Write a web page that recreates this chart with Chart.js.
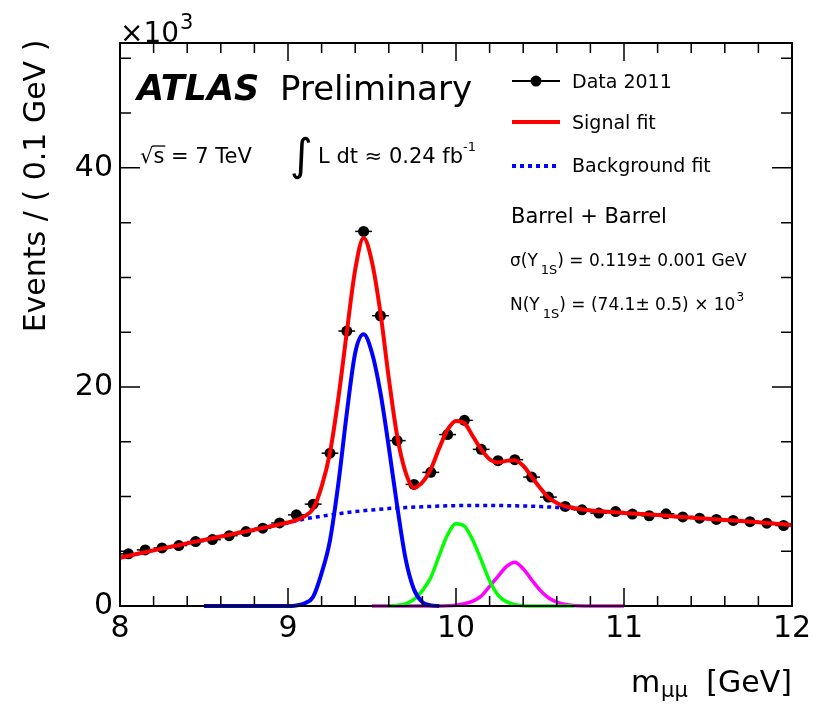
<!DOCTYPE html>
<html>
<head>
<meta charset="utf-8">
<script src="https://cdn.jsdelivr.net/npm/chart.js@4.4.0/dist/chart.umd.min.js"></script>
<style>
  html, body { margin: 0; padding: 0; background: #fff; }
</style>
</head>
<body>
<canvas id="myChart" width="819" height="704"></canvas>
<script>
// bin centres (GeV) and events per bin (x10^3)
const massBins = [8.05, 8.15, 8.25, 8.35, 8.45, 8.55, 8.65, 8.75, 8.85, 8.95,
  9.05, 9.15, 9.25, 9.35, 9.45, 9.55, 9.65, 9.75, 9.85, 9.95,
  10.05, 10.15, 10.25, 10.35, 10.45, 10.55, 10.65, 10.75, 10.85, 10.95,
  11.05, 11.15, 11.25, 11.35, 11.45, 11.55, 11.65, 11.75, 11.85, 11.95];
const dataCounts = [4.76, 5.12, 5.3, 5.52, 5.88, 6.06, 6.42, 6.8, 7.1, 7.58,
  8.32, 9.3, 13.95, 25.1, 34.2, 26.5, 15.1, 11.1, 12.2, 15.65,
  16.95, 14.3, 13.27, 13.36, 11.77, 9.94, 9.09, 8.78, 8.48, 8.62,
  8.39, 8.24, 8.42, 8.13, 8.02, 7.9, 7.81, 7.7, 7.56, 7.35];
const binHalfWidth = 0.05;

// total fit (signal + background)
const fitMass = [8.0, 8.1, 8.2, 8.3, 8.4, 8.5, 8.6, 8.7, 8.8, 8.9, 9.0, 9.05, 9.1, 9.15,
  9.2, 9.25, 9.3, 9.35, 9.4, 9.45, 9.5, 9.55, 9.6, 9.65, 9.7, 9.75, 9.8, 9.85, 9.9, 9.95,
  10.0, 10.05, 10.1, 10.15, 10.2, 10.25, 10.3, 10.35, 10.4, 10.45, 10.5, 10.55, 10.6, 10.65,
  10.7, 10.8, 10.9, 11.0, 11.1, 11.2, 11.3, 11.4, 11.5, 11.6, 11.7, 11.8, 11.9, 12.0];
const signalFit = [4.4, 4.75, 5.08, 5.4, 5.72, 6.03, 6.35, 6.66, 6.97, 7.28, 7.62, 7.85, 8.2, 8.9,
  10.9, 14.0, 19.0, 25.0, 30.7, 33.6, 31.4, 26.8, 20.8, 15.5, 12.2, 10.8, 11.3, 12.5, 14.4, 16.1,
  16.9, 16.7, 15.5, 14.3, 13.4, 13.1, 13.25, 13.3, 12.8, 11.8, 10.8, 9.9, 9.4, 9.1,
  8.95, 8.72, 8.6, 8.5, 8.4, 8.3, 8.18, 8.07, 7.96, 7.85, 7.75, 7.64, 7.52, 7.4];

// background only
const bkgMass = [8.0, 8.1, 8.2, 8.3, 8.4, 8.5, 8.6, 8.7, 8.8, 8.9, 9.0, 9.1, 9.2, 9.3, 9.4,
  9.5, 9.6, 9.7, 9.8, 9.9, 10.0, 10.1, 10.2, 10.3, 10.4, 10.5, 10.6, 10.7, 10.8, 10.9,
  11.0, 11.1, 11.2, 11.3, 11.4, 11.5, 11.6, 11.7, 11.8, 11.9, 12.0];
const bkgFit = [4.4, 4.75, 5.08, 5.4, 5.72, 6.03, 6.35, 6.66, 6.97, 7.28, 7.6, 7.95, 8.2, 8.42, 8.62,
  8.77, 8.9, 8.99, 9.06, 9.12, 9.16, 9.18, 9.18, 9.16, 9.13, 9.08, 9.0, 8.9, 8.72, 8.6,
  8.5, 8.4, 8.3, 8.18, 8.07, 7.96, 7.85, 7.75, 7.64, 7.52, 7.4];

// Upsilon(1S), (2S), (3S) components
const ups1Mass = [8.5, 9.0, 9.05, 9.1, 9.15, 9.2, 9.25, 9.3, 9.35, 9.4, 9.45, 9.5, 9.55, 9.6, 9.65, 9.7, 9.75, 9.8, 9.85, 9.9];
const ups1Fit = [0, 0, 0.05, 0.25, 0.85, 3.0, 6.0, 11.2, 17.6, 23.1, 24.8, 23.1, 19.5, 14.5, 9.1, 4.3, 1.5, 0.35, 0.06, 0];
const ups2Mass = [9.6, 9.65, 9.7, 9.75, 9.8, 9.85, 9.9, 9.95, 10.0, 10.05, 10.1, 10.15, 10.2, 10.25, 10.3, 10.35, 10.4, 10.5, 10.7];
const ups2Fit = [0, 0.05, 0.2, 0.6, 1.4, 2.6, 4.6, 6.5, 7.5, 7.3, 6.0, 4.2, 2.3, 1.0, 0.4, 0.12, 0.03, 0, 0];
const ups3Mass = [9.5, 9.9, 9.95, 10.0, 10.05, 10.1, 10.15, 10.2, 10.25, 10.3, 10.35, 10.4, 10.45, 10.5, 10.55, 10.6, 10.65, 10.7, 10.8, 11.0];
const ups3Fit = [0, 0, 0.02, 0.07, 0.2, 0.45, 0.9, 1.8, 2.7, 3.6, 4.0, 3.4, 2.4, 1.45, 0.75, 0.35, 0.13, 0.04, 0, 0];

const xMin = 8, xMax = 12, yMin = 0, yMax = 51.4;
const xLabels = [8, 9, 10, 11, 12];
const yLabels = [0, 20, 40];

const FONT = "'DejaVu Sans', 'Liberation Sans', sans-serif";

function pts(xs, ys) {
  return xs.map((x, i) => ({ x: x, y: ys[i] }));
}

function drawText(ctx, txt, x, y, size, style) {
  ctx.font = (style ? style + ' ' : '') + size + 'px ' + FONT;
  ctx.fillText(txt, x, y);
  return x + ctx.measureText(txt).width;
}

const atlasDeco = {
  id: 'atlasDeco',
  beforeDatasetsDraw(chart) {
    // horizontal bin-width bars on the data points
    const ctx = chart.ctx, xs = chart.scales.x, ys = chart.scales.y;
    ctx.save();
    ctx.strokeStyle = '#000';
    ctx.lineWidth = 1.5;
    massBins.forEach((m, i) => {
      const py = ys.getPixelForValue(dataCounts[i]);
      ctx.beginPath();
      ctx.moveTo(xs.getPixelForValue(m - binHalfWidth), py);
      ctx.lineTo(xs.getPixelForValue(m + binHalfWidth), py);
      ctx.stroke();
    });
    ctx.restore();
  },
  afterDraw(chart) {
    const ctx = chart.ctx, a = chart.chartArea;
    const xs = chart.scales.x, ys = chart.scales.y;
    ctx.save();
    ctx.strokeStyle = '#000';
    ctx.fillStyle = '#000';

    // ROOT style frame with inward ticks on all four sides
    ctx.lineWidth = 2;
    ctx.strokeRect(a.left, a.top, a.right - a.left, a.bottom - a.top);
    ctx.lineWidth = 1.5;
    ctx.beginPath();
    for (let k = 0; k <= 20; k++) {
      const v = xMin + k * 0.2;
      const px = xs.getPixelForValue(v);
      const len = (k % 5 === 0) ? 18 : 10;
      ctx.moveTo(px, a.bottom); ctx.lineTo(px, a.bottom - len);
      ctx.moveTo(px, a.top); ctx.lineTo(px, a.top + len);
    }
    for (let v = 0; v <= yMax; v += 5) {
      const py = ys.getPixelForValue(v);
      const len = (v % 20 === 0) ? 20 : 11;
      ctx.moveTo(a.left, py); ctx.lineTo(a.left + len, py);
      ctx.moveTo(a.right, py); ctx.lineTo(a.right - len, py);
    }
    ctx.stroke();

    ctx.textAlign = 'left';
    ctx.textBaseline = 'alphabetic';

    // x10^3 exponent
    let x = drawText(ctx, '\u00d710', 120, 42, 28);
    drawText(ctx, '3', x + 1, 29, 21);

    // ATLAS Preliminary
    drawText(ctx, 'ATLAS', 137, 100, 35, 'italic bold');
    drawText(ctx, 'Preliminary', 280, 100, 34);

    // sqrt(s) and luminosity
    ctx.font = '21px ' + FONT;
    const wRoot = ctx.measureText('\u221a').width;
    const wS = ctx.measureText('s').width;
    drawText(ctx, '\u221as = 7 TeV', 140, 163, 21);
    ctx.lineWidth = 1.3;
    ctx.beginPath();
    ctx.moveTo(140 + wRoot - 1, 146);
    ctx.lineTo(140 + wRoot + wS + 1, 146);
    ctx.stroke();
    drawText(ctx, '\u222b', 290, 170, 44);
    x = drawText(ctx, 'L dt \u2248 0.24 fb', 318, 163, 21);
    drawText(ctx, '-1', x, 151, 13);

    // legend
    ctx.lineWidth = 2;
    ctx.beginPath();
    ctx.moveTo(512, 81); ctx.lineTo(560, 81);
    ctx.stroke();
    ctx.beginPath();
    ctx.arc(536, 81, 5.5, 0, Math.PI * 2);
    ctx.fill();
    ctx.strokeStyle = '#ff0000';
    ctx.lineWidth = 4;
    ctx.beginPath();
    ctx.moveTo(512, 122); ctx.lineTo(560, 122);
    ctx.stroke();
    ctx.strokeStyle = '#0000ff';
    ctx.setLineDash([4, 4]);
    ctx.beginPath();
    ctx.moveTo(512, 166); ctx.lineTo(560, 166);
    ctx.stroke();
    ctx.setLineDash([]);
    drawText(ctx, 'Data 2011', 572, 88, 19);
    drawText(ctx, 'Signal fit', 572, 129, 19);
    drawText(ctx, 'Background fit', 572, 172, 19);

    drawText(ctx, 'Barrel + Barrel', 511, 223, 21);

    x = drawText(ctx, '\u03c3(\u03a5', 510, 266, 17);
    x = drawText(ctx, '1S', x + 3, 274, 13);
    drawText(ctx, ') = 0.119\u00b1 0.001 GeV', x, 266, 17);

    x = drawText(ctx, 'N(\u03a5', 510, 310, 17);
    x = drawText(ctx, '1S', x + 3, 318, 13);
    x = drawText(ctx, ') = (74.1\u00b1 0.5) \u00d7 10', x, 310, 17);
    drawText(ctx, '3', x + 1, 301, 12);

    // axis titles
    ctx.font = '30px ' + FONT;
    const wM = ctx.measureText('m').width;
    const wG = ctx.measureText(' [GeV]').width;
    ctx.font = '21px ' + FONT;
    const wMu = ctx.measureText('\u03bc\u03bc').width;
    x = 792 - (wM + wMu + wG + 10);
    x = drawText(ctx, 'm', x, 692, 30);
    x = drawText(ctx, '\u03bc\u03bc', x + 1, 697, 21);
    drawText(ctx, ' [GeV]', x + 9, 692, 30);

    ctx.translate(37, 186);
    ctx.rotate(-Math.PI / 2);
    ctx.textAlign = 'center';
    ctx.textBaseline = 'middle';
    drawText(ctx, 'Events / ( 0.1 GeV )', 0, 0, 30);
    ctx.restore();
  }
};

const ctx = document.getElementById('myChart').getContext('2d');
const grafico = new Chart(ctx, {
  type: 'line',
  data: {
    datasets: [
      {
        label: 'Signal fit',
        data: pts(fitMass, signalFit),
        borderColor: '#ff0000',
        borderWidth: 4,
        pointRadius: 0,
        cubicInterpolationMode: 'monotone'
      },
      {
        label: 'Y(1S)',
        data: pts(ups1Mass, ups1Fit),
        borderColor: '#0000ff',
        borderWidth: 4,
        pointRadius: 0,
        cubicInterpolationMode: 'monotone',
        clip: false
      },
      {
        label: 'Y(2S)',
        data: pts(ups2Mass, ups2Fit),
        borderColor: '#00ff00',
        borderWidth: 3.5,
        pointRadius: 0,
        cubicInterpolationMode: 'monotone',
        clip: false
      },
      {
        label: 'Y(3S)',
        data: pts(ups3Mass, ups3Fit),
        borderColor: '#ff00ff',
        borderWidth: 3.5,
        pointRadius: 0,
        cubicInterpolationMode: 'monotone',
        clip: false
      },
      {
        label: 'Background fit',
        data: pts(bkgMass, bkgFit),
        borderColor: '#0000ff',
        borderWidth: 3.5,
        borderDash: [4, 4],
        pointRadius: 0,
        cubicInterpolationMode: 'monotone'
      },
      {
        label: 'Data 2011',
        data: pts(massBins, dataCounts),
        showLine: false,
        pointRadius: 5.5,
        pointBackgroundColor: '#000',
        pointBorderColor: '#000',
        pointBorderWidth: 0
      }
    ]
  },
  options: {
    responsive: false,
    animation: false,
    layout: { padding: { top: 43, right: 27, left: 0, bottom: 0 } },
    plugins: {
      legend: { display: false },
      tooltip: { enabled: false }
    },
    scales: {
      x: {
        type: 'linear',
        min: xMin,
        max: xMax,
        grid: { display: false, drawTicks: false },
        border: { display: false },
        afterFit: (scale) => { scale.height = 98; },
        ticks: {
          stepSize: 0.2,
          autoSkip: false,
          maxRotation: 0,
          padding: 5,
          color: '#000',
          font: { family: FONT, size: 30 },
          callback: (v) => {
            const r = Math.round(v);
            return (Math.abs(v - r) < 1e-6 && xLabels.includes(r)) ? String(r) : '';
          }
        }
      },
      y: {
        min: yMin,
        max: yMax,
        grid: { display: false, drawTicks: false },
        border: { display: false },
        afterFit: (scale) => { scale.width = 120; },
        ticks: {
          stepSize: 5,
          autoSkip: false,
          padding: 7,
          color: '#000',
          font: { family: FONT, size: 30 },
          callback: (v) => yLabels.includes(v) ? String(v) : ''
        }
      }
    }
  },
  plugins: [atlasDeco]
});
</script>
</body>
</html>
